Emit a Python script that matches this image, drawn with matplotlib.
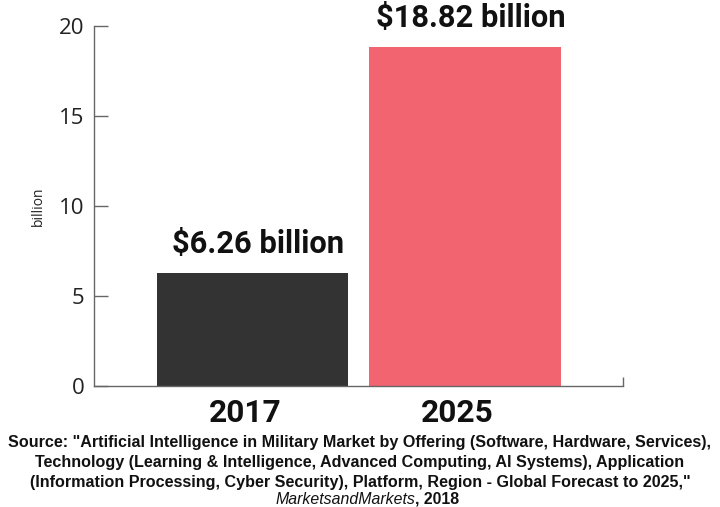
import matplotlib
matplotlib.use("Agg")
import matplotlib.pyplot as plt
from matplotlib import font_manager

years = ["2017", "2025"]
values = [6.26, 18.82]
value_labels = ["$6.26 billion", "$18.82 billion"]
bar_colors = ["#333333", "#f26470"]
y_ticks = [0, 5, 10, 15, 20]
source_lines = [
    "Source: \"Artificial Intelligence in Military Market by Offering (Software, Hardware, Services),",
    "Technology (Learning & Intelligence, Advanced Computing, AI Systems), Application",
    "(Information Processing, Cyber Security), Platform, Region - Global Forecast to 2025,\"",
]
publisher = "MarketsandMarkets"
pub_year = ", 2018"


def pick_font(cands):
    names = {f.name for f in font_manager.fontManager.ttflist}
    for c in cands:
        if c in names:
            return c
    return "DejaVu Sans"


head_font = pick_font(["Roboto", "Lato", "DejaVu Sans"])
tick_font = pick_font(["Open Sans", "Lato", "DejaVu Sans"])
src_font = pick_font(["Liberation Sans", "Arimo", "DejaVu Sans"])

fig = plt.figure(figsize=(7.2, 5.07), dpi=100)
ax = fig.add_axes([94 / 720, 1 - 386 / 507, (623 - 94) / 720, (386 - 26) / 507])

x = list(range(len(years)))
bars = ax.bar(x, values, width=0.9, color=bar_colors)

ax.set_xlim(-0.746, 1.744)
ax.set_ylim(0, 20)
ax.set_yticks(y_ticks)
# year labels sit a touch left of the bar centres
ax.set_xticks([i - 0.035 for i in x])
ax.set_xticklabels(years, fontfamily=head_font, fontweight="bold", fontsize=22.8, color="#111111")
ax.tick_params(axis="x", length=0, pad=8.5)
ax.set_xticks([1.744], minor=True)
ax.tick_params(axis="x", which="minor", direction="in", length=6.5, width=1, color="#666666")
ax.tick_params(axis="y", direction="in", length=10, width=1, color="#666666", pad=7,
               labelsize=16, labelcolor="#222222")
for lab in ax.get_yticklabels():
    lab.set_fontfamily(tick_font)

for s in ["top", "right"]:
    ax.spines[s].set_visible(False)
for s in ["left", "bottom"]:
    ax.spines[s].set_color("#666666")
    ax.spines[s].set_linewidth(1)

ax.set_ylabel("billion", fontfamily=tick_font, fontsize=10, color="#222222", labelpad=9)

for b, txt in zip(bars, value_labels):
    ax.annotate(txt, (b.get_x() + b.get_width() / 2, b.get_height()),
                xytext=(4, 10), textcoords="offset points", ha="center", va="bottom",
                fontfamily=head_font, fontweight="bold", fontsize=22.2, color="#111111")

# source note, one baseline per line
for i, line in enumerate(source_lines):
    fig.text(0.5, 1 - (447 + 20 * i) / 507, line, ha="center", va="baseline",
             fontfamily=src_font, fontweight="bold", fontsize=11.6, color="#111111")
fig.text(415 / 720, 1 - 503.5 / 507, publisher, ha="right", va="baseline",
         fontfamily=src_font, fontstyle="italic", fontsize=11.4, color="#111111")
fig.text(415 / 720, 1 - 503.5 / 507, pub_year, ha="left", va="baseline",
         fontfamily=src_font, fontweight="bold", fontsize=11.4, color="#111111")

fig.savefig("out.png", dpi=100)
